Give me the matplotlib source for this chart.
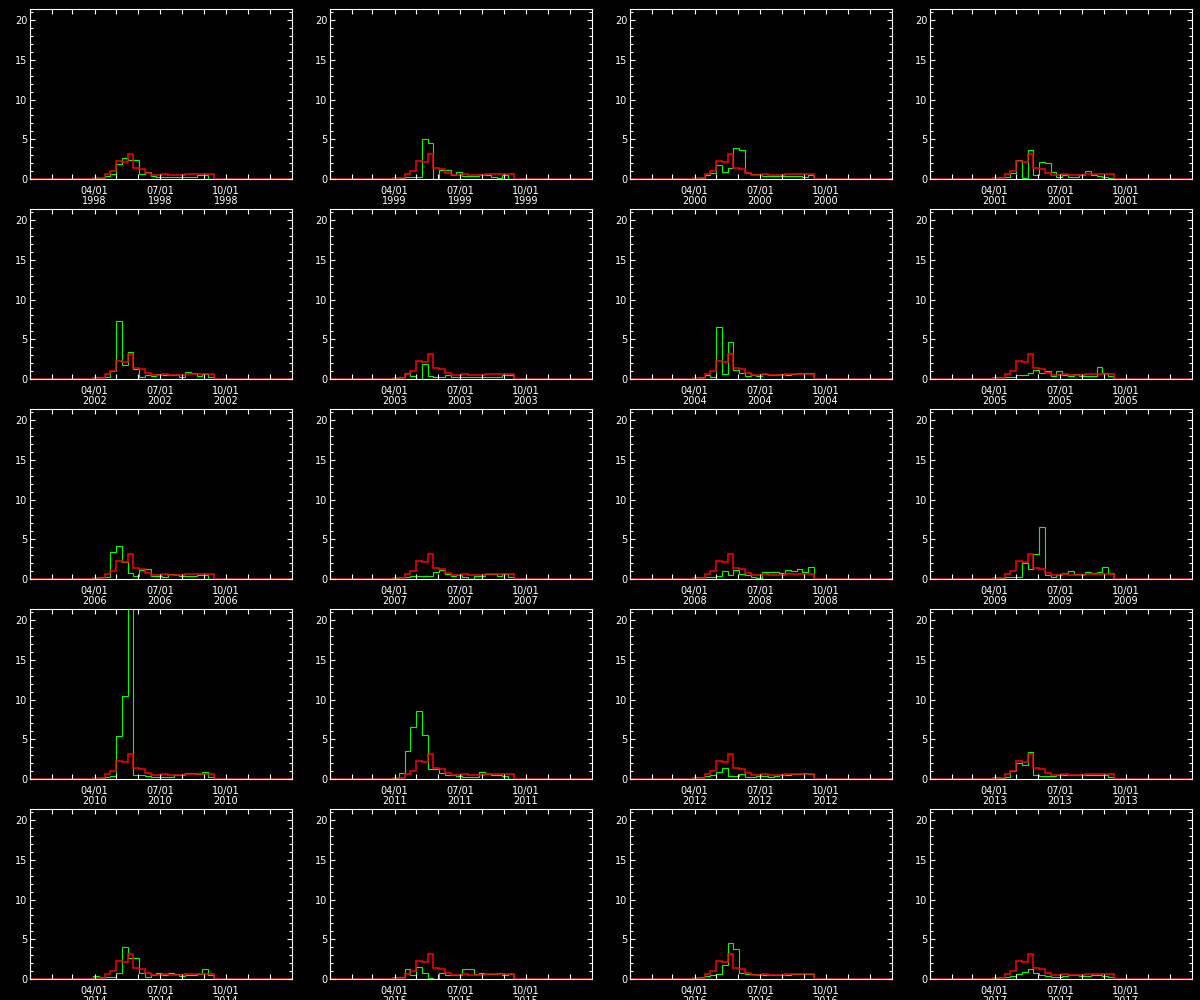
import numpy as np
import matplotlib
matplotlib.use("Agg")
import matplotlib.pyplot as plt
from matplotlib.ticker import MultipleLocator

# ------------------------------------------------------------
# Data: 8-day composite values per year (green) and the
# multi-year climatology (red), for bins starting at day 88
# ------------------------------------------------------------
years = list(range(1998, 2018))
bin_edges = np.arange(88, 257, 8)  # day of year (0-based), 21 bins

red_clim = [0.15, 0.15, 0.67, 1.0, 2.27, 2.1, 3.15, 1.4, 1.25, 0.75, 0.55,
            0.55, 0.6, 0.55, 0.55, 0.55, 0.6, 0.6, 0.6, 0.6, 0.6]

g1998 = [0.1, 0.15, 0.35, 0.6, 1.9, 2.6, 2.4, 2.4, 0.6, 0.85, 0.4,
         0.2, 0.2, 0.2, 0.2, 0.2, 0.3, 0.3, 0.5, 0.5, 0.0]
g1999 = [0.05, 0.1, 0.2, 0.3, 0.3, 5.0, 4.5, 0.0, 1.1, 1.1, 0.5,
         0.9, 0.4, 0.4, 0.4, 0.5, 0.5, 0.2, 0.1, 0.5, 0.0]
g2000 = [0.0, 0.1, 0.5, 0.8, 1.8, 0.9, 1.4, 3.9, 3.6, 0.7, 0.6,
         0.6, 0.4, 0.4, 0.4, 0.4, 0.4, 0.4, 0.4, 0.2, 0.5]
g2001 = [0.0, 0.3, 0.3, 0.7, 2.4, 0.1, 3.7, 0.5, 2.2, 2.0, 0.9,
         0.2, 0.5, 0.3, 0.3, 0.5, 1.0, 0.5, 0.4, 0.3, 0.1]
g2002 = [0.2, 0.2, 0.3, 1.0, 7.3, 1.8, 3.4, 1.3, 0.3, 0.5, 0.4,
         0.6, 0.5, 0.5, 0.5, 0.3, 0.9, 0.8, 0.4, 0.6, 0.2]
g2003 = [0.1, 0.3, 0.8, 0.4, 0.05, 1.9, 0.4, 0.3, 0.3, 0.5, 0.3,
         0.3, 0.3, 0.3, 0.3, 0.2, 0.2, 0.2, 0.2, 0.5, 0.5]
g2004 = [0.05, 0.3, 0.5, 0.3, 6.6, 0.6, 4.7, 1.1, 0.7, 0.4, 0.5,
         0.4, 0.65, 0.5, 0.5, 0.65, 0.5, 0.6, 0.7, 0.7, 0.7]
g2005 = [0.2, 0.2, 0.2, 0.2, 0.45, 0.45, 0.8, 1.1, 0.7, 1.0, 0.4,
         1.0, 0.5, 0.4, 0.6, 0.4, 0.4, 0.4, 1.5, 0.7, 0.4]
g2006 = [0.1, 0.2, 0.3, 3.4, 4.1, 2.2, 0.7, 0.4, 1.1, 1.2, 0.4,
         0.4, 0.2, 0.6, 0.5, 0.4, 0.4, 0.4, 0.5, 0.5, 0.0]
g2007 = [0.1, 0.2, 0.3, 0.4, 0.4, 0.4, 0.4, 0.9, 1.1, 0.6, 0.4,
         0.5, 0.3, 0.0, 0.4, 0.4, 0.6, 0.6, 0.4, 0.6, 0.3]
g2008 = [0.2, 0.2, 0.3, 0.3, 0.4, 1.0, 0.5, 1.1, 0.6, 0.5, 0.3,
         0.1, 0.9, 0.85, 0.9, 0.8, 1.1, 1.0, 1.2, 0.9, 1.5]
g2009 = [0.05, 0.1, 0.2, 0.3, 0.3, 2.0, 1.3, 3.2, 6.5, 0.5, 0.3,
         0.45, 0.8, 0.95, 0.6, 0.6, 0.85, 0.75, 0.9, 1.5, 0.7]
g2010 = [0.05, 0.1, 0.2, 0.4, 5.4, 10.5, 23.0, 0.45, 0.45, 0.4, 0.3,
         0.2, 0.2, 0.2, 0.45, 0.45, 0.7, 0.7, 0.6, 0.85, 0.3]
g2011 = [0.1, 0.7, 3.5, 6.6, 8.5, 5.5, 1.2, 1.2, 0.8, 0.5, 0.5,
         0.4, 0.3, 0.3, 0.2, 0.9, 0.6, 0.5, 0.5, 0.4, 0.0]
g2012 = [0.3, 0.2, 0.4, 0.5, 0.85, 1.4, 0.4, 0.4, 0.6, 0.2, 0.3,
         0.4, 0.4, 0.2, 0.4, 0.45, 0.5, 0.6, 0.6, 0.75, 0.6]
g2013 = [0.2, 0.1, 0.3, 1.0, 2.0, 1.7, 3.35, 0.5, 0.4, 0.4, 0.4,
         0.5, 0.5, 0.55, 0.55, 0.5, 0.45, 0.45, 0.45, 0.45, 0.3]
g2014 = [0.4, 0.2, 0.3, 0.3, 0.7, 4.0, 2.6, 2.6, 0.7, 0.3, 0.45,
         0.7, 0.5, 0.7, 0.6, 0.4, 0.5, 0.5, 0.6, 1.3, 0.5]
g2015 = [0.2, 0.3, 1.2, 0.5, 1.5, 0.8, 0.1, 0.0, 0.8, 0.5, 0.5,
         0.5, 1.3, 1.2, 0.6, 0.8, 0.6, 0.6, 0.8, 0.5, 0.6]
g2016 = [0.1, 0.2, 0.4, 0.5, 0.6, 1.7, 4.5, 3.8, 0.8, 0.6, 0.6,
         0.5, 0.5, 0.45, 0.45, 0.45, 0.5, 0.6, 0.6, 0.6, 0.6]
g2017 = [0.1, 0.2, 0.3, 0.4, 0.6, 0.9, 1.2, 0.8, 0.5, 0.4, 0.3,
         0.3, 0.4, 0.5, 0.5, 0.4, 0.4, 0.5, 0.5, 0.4, 0.3]

green_series = [g1998, g1999, g2000, g2001, g2002, g2003, g2004, g2005,
                g2006, g2007, g2008, g2009, g2010, g2011, g2012, g2013,
                g2014, g2015, g2016, g2017]

month_days = [0, 31, 59, 90, 120, 151, 181, 212, 243, 273, 304, 334]
labelled = {90: "04/01", 181: "07/01", 273: "10/01"}
y_max = 21.4

# ------------------------------------------------------------
# Plot: 5 x 4 grid of IDL-style panels
# ------------------------------------------------------------
fig = plt.figure(figsize=(12, 10), dpi=100, facecolor="black")
full_edges = np.concatenate([[0], bin_edges, [365]])

for i, (year, green) in enumerate(zip(years, green_series)):
    row, col = divmod(i, 4)
    left = (30 + 300 * col) / 1200
    bottom = 1 - (179 + 200 * row) / 1000
    ax = fig.add_axes([left, bottom, 262 / 1200, 170 / 1000], facecolor="black")

    g = np.concatenate([[0], green, [0]])
    r = np.concatenate([[0], red_clim, [0]])
    ax.stairs(g, full_edges, baseline=None, color="#00ff00", lw=0.8)
    ax.stairs(r, full_edges, baseline=None, color="#ff0000", lw=1.1)

    ax.set_xlim(0, 365)
    ax.set_ylim(0, y_max)

    ax.set_xticks(month_days)
    ax.set_xticklabels([f"{labelled[d]}\n{year}" if d in labelled else ""
                        for d in month_days], linespacing=0.95)
    ax.yaxis.set_major_locator(MultipleLocator(5))
    ax.yaxis.set_minor_locator(MultipleLocator(1))

    for s in ax.spines.values():
        s.set_color("white")
        s.set_linewidth(0.8)
    ax.tick_params(axis="both", which="both", direction="in", colors="white",
                   top=True, right=True, width=0.8, labelsize=7)
    ax.tick_params(axis="y", which="major", length=3.6, pad=2)
    ax.tick_params(axis="y", which="minor", length=2.2)
    ax.tick_params(axis="x", which="major", length=3.6, pad=5)

fig.savefig("out.png", dpi=100, facecolor="black")
